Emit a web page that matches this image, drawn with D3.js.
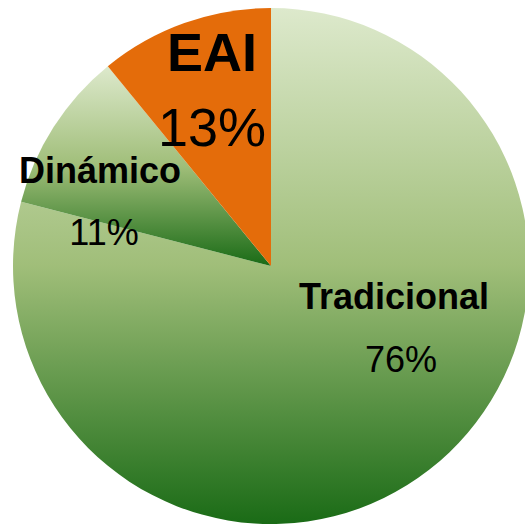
<!DOCTYPE html>
<html><head><meta charset="utf-8">
<script src="https://cdn.jsdelivr.net/npm/d3@7"></script>
<style>html,body{margin:0;padding:0;background:#fff;}svg{display:block;}</style>
</head><body>
<svg id="c" width="525" height="525"></svg>
<script>
const categories = ["Tradicional", "Dinámico", "EAI"];
const values = [79, 10.1, 10.9];
const pctLabels = ["76%", "11%", "13%"];

const svg = d3.select("#c");
const cx = 271, cy = 266, r = 258;
const defs = svg.append("defs");
const gradStops = [[0, "#dde9cc"], [0.5, "#a0be79"], [1, "#1a6b16"]];
["g0", "g1"].forEach(id => {
  const g = defs.append("linearGradient").attr("id", id)
    .attr("x1", 0).attr("y1", 0).attr("x2", 0).attr("y2", 1);
  gradStops.forEach(s => g.append("stop").attr("offset", s[0]).attr("stop-color", s[1]));
});
const fills = ["url(#g0)", "url(#g1)", "#e46c0a"];

const pie = d3.pie().sort(null).value(d => d)(values);
const arc = d3.arc().innerRadius(0).outerRadius(r);
const g = svg.append("g").attr("transform", `translate(${cx},${cy})`);
g.selectAll("path").data(pie).join("path")
  .attr("d", arc).attr("fill", (d, i) => fills[i]);

// label layout: [name offset, pct offset, name size, pct size]
const layout = [
  { n: [123, 309 - cy], p: [130, 372 - cy], ns: 36, ps: 36 },
  { n: [-171, 183 - cy], p: [-167, 245 - cy], ns: 36, ps: 36 },
  { n: [-59, 71 - cy], p: [-59, 146 - cy], ns: 54, ps: 54 }
];
const font = "'Liberation Sans', Arial, sans-serif";
categories.forEach((c, i) => {
  const L = layout[i];
  g.append("text").attr("x", L.n[0]).attr("y", L.n[1])
    .attr("text-anchor", "middle").attr("font-family", font)
    .attr("font-weight", "bold").attr("font-size", L.ns).attr("fill", "#000").text(c);
  g.append("text").attr("x", L.p[0]).attr("y", L.p[1])
    .attr("text-anchor", "middle").attr("font-family", font)
    .attr("font-size", L.ps).attr("fill", "#000").text(pctLabels[i]);
});
</script>
</body></html>
